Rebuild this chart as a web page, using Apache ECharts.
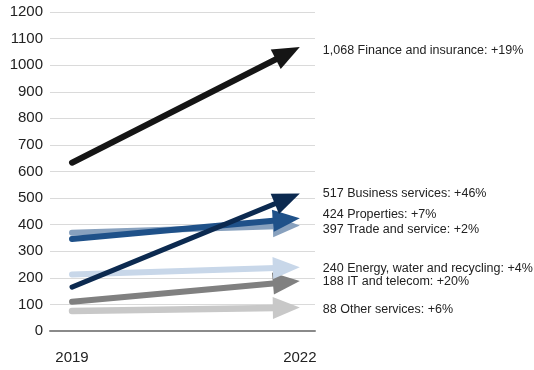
<!DOCTYPE html>
<html>
<head>
<meta charset="utf-8">
<script src="https://cdn.jsdelivr.net/npm/echarts@6/dist/echarts.min.js"></script>
<style>
  html, body { margin: 0; padding: 0; background: #fff; }
  #chart { width: 534px; height: 370px; }
</style>
</head>
<body>
<div id="chart"></div>
<script>
// Years compared
const years = [2019, 2022];
// Sectors, in the order their labels run down the right side
const sectors = ['Finance and insurance', 'Business services', 'Properties', 'Trade and service',
  'Energy, water and recycling', 'IT and telecom', 'Other services'];
const values2019 = [633, 165, 346, 370, 213, 110, 75];
const values2022 = [1068, 517, 424, 397, 240, 188, 88];
const changes = ['+19%', '+46%', '+7%', '+2%', '+4%', '+20%', '+6%'];
// Value axis ticks
const yMin = 0, yMax = 1200, yStep = 100;

// Styling per sector
const colors = ['#151515', '#0c2a50', '#1f5189', '#88a1be', '#c8d7e9', '#808080', '#c8c8c8'];
const widths = [6, 5, 6, 6, 6, 6, 6.5];
const labelShift = [3, 0, -4, 4, 1, 1, 2];

const fmt = v => v.toLocaleString('en-US');

// Draw back to front: lower sectors first, finance last
const items = [];
for (let i = sectors.length - 1; i >= 0; i--) {
  items.push([years[0], values2019[i], years[1], values2022[i], i]);
}

function renderArrow(params, api) {
  const i = api.value(4);
  const p0 = api.coord([api.value(0), api.value(1)]);
  const p1 = api.coord([api.value(2), api.value(3)]);
  const dx = p1[0] - p0[0], dy = p1[1] - p0[1];
  const len = Math.hypot(dx, dy);
  const ux = dx / len, uy = dy / len;
  const nx = -uy, ny = ux;
  const headLen = 27, headHalf = 11;
  const bx = p1[0] - ux * headLen, by = p1[1] - uy * headLen;
  return {
    type: 'group',
    children: [
      {
        type: 'line',
        shape: { x1: p0[0], y1: p0[1], x2: bx + ux * 3, y2: by + uy * 3 },
        style: { stroke: colors[i], lineWidth: widths[i], lineCap: 'round' }
      },
      {
        type: 'polygon',
        shape: { points: [[p1[0], p1[1]], [bx + nx * headHalf, by + ny * headHalf], [bx - nx * headHalf, by - ny * headHalf]] },
        style: { fill: colors[i] }
      },
      {
        type: 'text',
        x: p1[0] + 23,
        y: p1[1] + labelShift[i],
        style: {
          text: fmt(api.value(3)) + ' ' + sectors[i] + ': ' + changes[i],
          fill: '#222',
          font: '12.5px "Liberation Sans", Arial, sans-serif',
          verticalAlign: 'middle',
          align: 'left'
        }
      }
    ]
  };
}

const chart = echarts.init(document.getElementById('chart'), null, { renderer: 'canvas' });
chart.setOption({
  animation: false,
  backgroundColor: '#fff',
  grid: { left: 50, right: 219, top: 12, bottom: 39, containLabel: false },
  xAxis: {
    type: 'value',
    min: 2018.71,
    max: 2022.2,
    splitLine: { show: false },
    axisTick: { show: false },
    axisLine: { show: true, onZero: false, lineStyle: { color: '#8a8a8a', width: 2 } },
    axisLabel: {
      customValues: years,
      margin: 19,
      color: '#222',
      fontFamily: '"Liberation Sans", Arial, sans-serif',
      fontSize: 15,
      formatter: v => String(v)
    }
  },
  yAxis: {
    type: 'value',
    min: yMin,
    max: yMax,
    interval: yStep,
    axisLine: { show: false },
    axisTick: { show: false },
    splitLine: { lineStyle: { color: '#dadada', width: 1 } },
    axisLabel: {
      margin: 7,
      color: '#222',
      fontFamily: '"Liberation Sans", Arial, sans-serif',
      fontSize: 15,
      formatter: v => String(v)
    }
  },
  series: [{
    type: 'custom',
    renderItem: renderArrow,
    data: items,
    encode: { x: [0, 2], y: [1, 3] },
    clip: false
  }]
});
</script>
</body>
</html>
